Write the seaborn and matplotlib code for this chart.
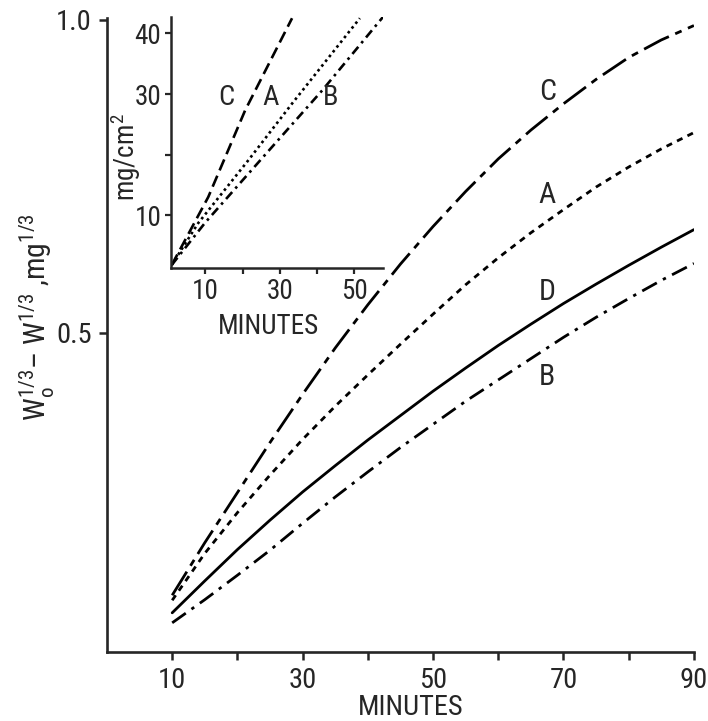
import matplotlib
matplotlib.use('Agg')
import matplotlib.pyplot as plt
from matplotlib import font_manager
import pandas as pd
import seaborn as sns

sns.set_style('ticks')

# the scan uses a narrow DIN-like face; take a narrow family if there is one
font_names = {f.name for f in font_manager.fontManager.ttflist}
dejavu_cond = any(f.name == 'DejaVu Sans' and f.stretch == 'condensed'
                  for f in font_manager.fontManager.ttflist)
narrow = None
for name in ['Liberation Sans Narrow', 'Roboto Condensed', 'Open Sans Condensed']:
    if name in font_names:
        narrow = name
        break
if narrow is None:
    narrow = 'DejaVu Sans'
    if dejavu_cond:
        plt.rcParams['font.stretch'] = 'condensed'
plt.rcParams['font.family'] = [narrow, 'DejaVu Sans']
plt.rcParams['mathtext.fontset'] = 'custom'
plt.rcParams['mathtext.rm'] = narrow
SCALE = 1.0 if (narrow != 'DejaVu Sans' or dejavu_cond) else 0.88

# main plot : W0^1/3 - W^1/3 vs minutes
minutes = [10, 15, 20, 25, 30, 35, 40, 45, 50, 55, 60, 65, 70, 75, 80, 85, 90]
curve_c = [0.081, 0.165, 0.245, 0.325, 0.402, 0.476, 0.545, 0.610, 0.670, 0.726, 0.778, 0.824, 0.866, 0.905, 0.940, 0.968, 0.991]
curve_a = [0.073, 0.148, 0.213, 0.273, 0.330, 0.383, 0.433, 0.482, 0.530, 0.577, 0.620, 0.660, 0.697, 0.733, 0.765, 0.794, 0.820]
curve_d = [0.053, 0.104, 0.154, 0.201, 0.246, 0.288, 0.329, 0.368, 0.407, 0.444, 0.480, 0.514, 0.547, 0.578, 0.608, 0.637, 0.665]
curve_b = [0.037, 0.074, 0.113, 0.153, 0.196, 0.238, 0.278, 0.317, 0.354, 0.391, 0.425, 0.459, 0.493, 0.525, 0.555, 0.584, 0.611]

# inset : mg/cm2 vs minutes
ins_c_t = [1, 10.8, 20.7, 33.3]
ins_c_y = [1.8, 13.0, 27.3, 42.5]
ins_a_t = [1, 8.1, 21.6, 33.4, 51.5]
ins_a_y = [1.8, 8.7, 19.1, 28.5, 42.5]
ins_b_t = [1, 10, 26.1, 41.4, 57.7]
ins_b_y = [1.8, 8.8, 20.0, 30.6, 42.7]

main_df = pd.concat([
    pd.DataFrame({'minutes': minutes, 'value': v, 'sample': s})
    for s, v in [('C', curve_c), ('A', curve_a), ('D', curve_d), ('B', curve_b)]
])
ins_df = pd.concat([
    pd.DataFrame({'minutes': t, 'value': v, 'sample': s})
    for s, t, v in [('C', ins_c_t, ins_c_y), ('A', ins_a_t, ins_a_y), ('B', ins_b_t, ins_b_y)]
])

main_dashes = {'C': (10, 2.5, 2.5, 2.5), 'A': (2.2, 2), 'D': '', 'B': (6, 2.5, 1.2, 2.5)}
ins_dashes = {'C': (4.5, 2.2), 'A': (1, 1.3), 'B': (3.5, 1.8, 1, 1.8)}
black = {k: 'black' for k in ['A', 'B', 'C', 'D']}

fs = 20.5 * SCALE
fs_in = 19.5 * SCALE

fig = plt.figure(figsize=(7.08, 7.21), dpi=100)
ax = fig.add_axes([0.1511, 0.0957, 0.829, 0.8793])

sns.lineplot(data=main_df, x='minutes', y='value', hue='sample', style='sample',
             palette=black, dashes=main_dashes, linewidth=2.0, legend=False, ax=ax)
ax.set_xlim(0, 90)
ax.set_ylim(-0.0096, 1.003)
ax.set_xticks(range(10, 91, 10))
ax.set_xticklabels(['10', '', '30', '', '50', '', '70', '', '90'])
ax.set_yticks([0.5, 1.0])
ax.set_yticklabels(['0.5', '1.0'])
ax.tick_params(labelsize=fs, length=6, width=1.8, pad=5)
for sp in ['top', 'right']:
    ax.spines[sp].set_visible(False)
for sp in ['left', 'bottom']:
    ax.spines[sp].set_linewidth(1.9)
ax.set_xlabel('MINUTES', fontsize=fs)
ax.xaxis.set_label_coords(0.518, -0.066)
ax.set_ylabel(r'W$_\mathregular{o}^\mathregular{1/3}$– W$^\mathregular{1/3}$ ,mg$^\mathregular{1/3}$', fontsize=fs + 1)
ax.yaxis.set_label_coords(-0.085, 0.528)

for lab, y in [('C', 0.885), ('A', 0.72), ('D', 0.565), ('B', 0.43)]:
    ax.text(67.5, y, lab, fontsize=fs + 1, ha='center', va='center')

# inset
ins = fig.add_axes([0.2415, 0.6283, 0.2994, 0.3481])
sns.lineplot(data=ins_df, x='minutes', y='value', hue='sample', style='sample',
             palette=black, dashes=ins_dashes, linewidth=1.9, legend=False, ax=ins)
ins.set_xlim(0.8, 57.7)
ins.set_ylim(1.3, 42.7)
ins.set_xticks([10, 20, 30, 40, 50])
ins.set_xticklabels(['10', '', '30', '', '50'])
ins.set_yticks([10, 20, 30, 40])
ins.set_yticklabels(['10', '', '30', '40'])
ins.tick_params(labelsize=fs_in, length=4, width=1.6, pad=3)
ins.patch.set_alpha(0)
for sp in ['top', 'right']:
    ins.spines[sp].set_visible(False)
for sp in ['left', 'bottom']:
    ins.spines[sp].set_linewidth(1.8)
ins.set_xlabel('MINUTES', fontsize=fs_in)
ins.xaxis.set_label_coords(0.462, -0.18)
ins.set_ylabel('mg/cm$^\\mathregular{2}$', fontsize=fs_in)
ins.yaxis.set_label_coords(-0.13, 0.44)
for lab, t in [('C', 15.8), ('A', 27.6), ('B', 43.7)]:
    ins.text(t, 29.5, lab, fontsize=fs_in + 1, ha='center', va='center')

fig.savefig('out.png', dpi=100)
